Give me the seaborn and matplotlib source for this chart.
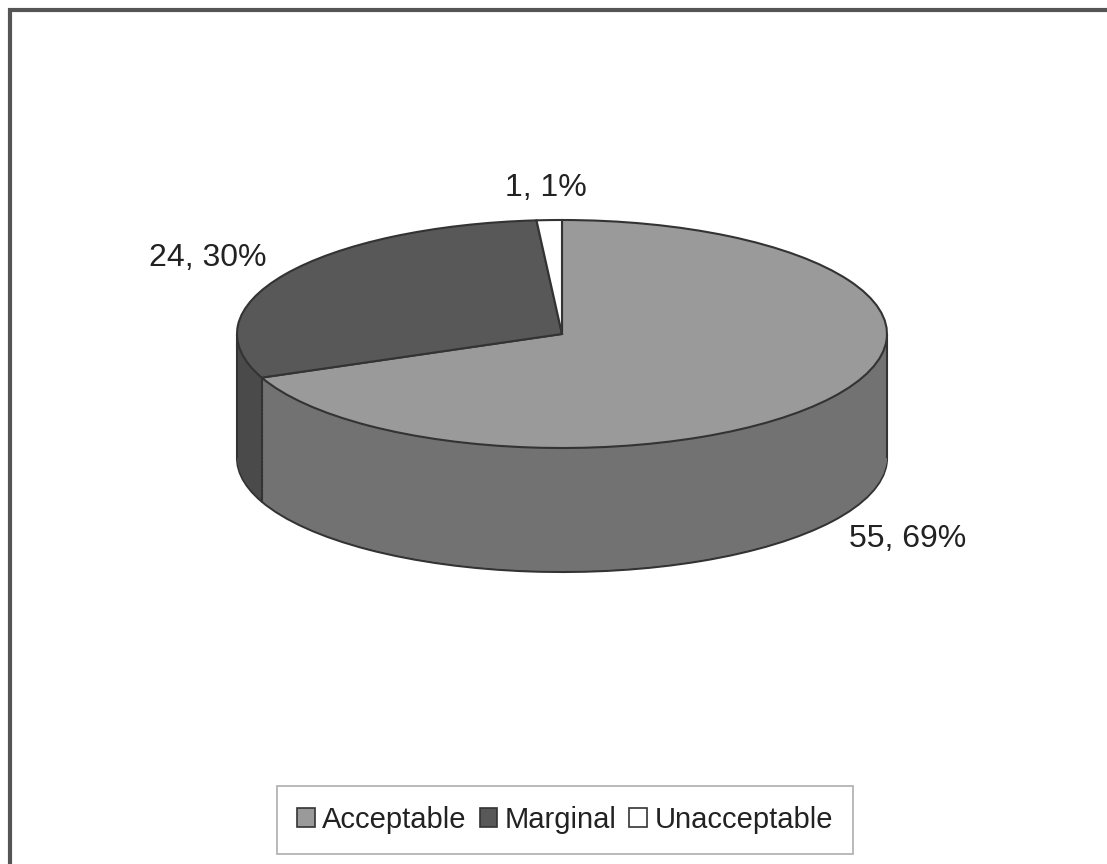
import numpy as np
import matplotlib
matplotlib.use("Agg")
from matplotlib import pyplot as plt
from matplotlib.patches import Rectangle
import seaborn as sns

# data
categories = ["Acceptable", "Marginal", "Unacceptable"]
counts = [55, 24, 1]
percents = [69, 30, 1]

top_colors = ["#9a9a9a", "#585858", "#ffffff"]
side_colors = ["#727272", "#4a4a4a", "#e8e8e8"]
edge = "#333333"

sns.set_theme(style="white")
plt.rcParams["font.family"] = ["Liberation Sans", "DejaVu Sans"]

W, H = 1107, 864
fig = plt.figure(figsize=(W / 100, H / 100), dpi=100)
ax = fig.add_axes([0, 0, 1, 1])

# pie geometry (pixels)
cx, cy = 562, 334          # centre of top face, y from top
rx, ry = 325, 114          # ellipse radii of top face
depth = 124 / ry           # side height in data units (y)

# side wall: stack of flattened pies
nlayers = 90
for z in np.linspace(-depth, 0, nlayers, endpoint=False):
    is_bottom = z == -depth
    ax.pie(counts, colors=side_colors, startangle=90, counterclock=False,
           center=(0, z), radius=1,
           wedgeprops=dict(edgecolor=edge if is_bottom else "none",
                           linewidth=1.5 if is_bottom else 0))

# top face
wedges, _ = ax.pie(counts, colors=top_colors, startangle=90, counterclock=False,
                   center=(0, 0), radius=1,
                   wedgeprops=dict(edgecolor=edge, linewidth=1.5))

# vertical outlines of the cylinder
ax.vlines([-1, 1], -depth, 0, color=edge, lw=1.5, zorder=5)
for w in wedges:
    for th in (w.theta1, w.theta2):
        if np.sin(np.radians(th)) < 0:
            x0, y0 = np.cos(np.radians(th)), np.sin(np.radians(th))
            ax.vlines(x0, y0 - depth, y0, color=edge, lw=1.2, zorder=5)

# data labels
r_lab = 1.28
for w, n, p in zip(wedges, counts, percents):
    mid = np.radians((w.theta1 + w.theta2) / 2)
    lx, ly = r_lab * np.cos(mid), r_lab * np.sin(mid)
    if ly < 0:
        ly -= depth
    ax.text(lx, ly, f"{n}, {p}%", ha="center", va="center",
            fontsize=23, color="#222222")

ax.set_aspect("auto")
ax.set_xlim(-cx / rx, (W - cx) / rx)
ax.set_ylim(-(H - cy) / ry, cy / ry)
ax.axis("off")

leg = ax.legend(wedges, categories, loc="center", ncol=3,
                bbox_to_anchor=(565 / W, 1 - 820 / H), bbox_transform=fig.transFigure,
                fontsize=21, frameon=True, fancybox=False, edgecolor="#999999",
                handlelength=0.6, handleheight=0.6, handletextpad=0.25,
                columnspacing=0.45, borderpad=0.7, labelcolor="#222222")
leg.get_frame().set_linewidth(1.2)
for h in leg.legend_handles:
    h.set_edgecolor(edge)
    h.set_linewidth(1.2)

# chart area border (left and top visible)
fig.add_artist(Rectangle((10 / W, -0.02), 1.1, 1.02 - 10 / H,
                         transform=fig.transFigure, fill=False,
                         edgecolor="#555555", lw=3))

fig.savefig("out.png", dpi=100, facecolor="white")
